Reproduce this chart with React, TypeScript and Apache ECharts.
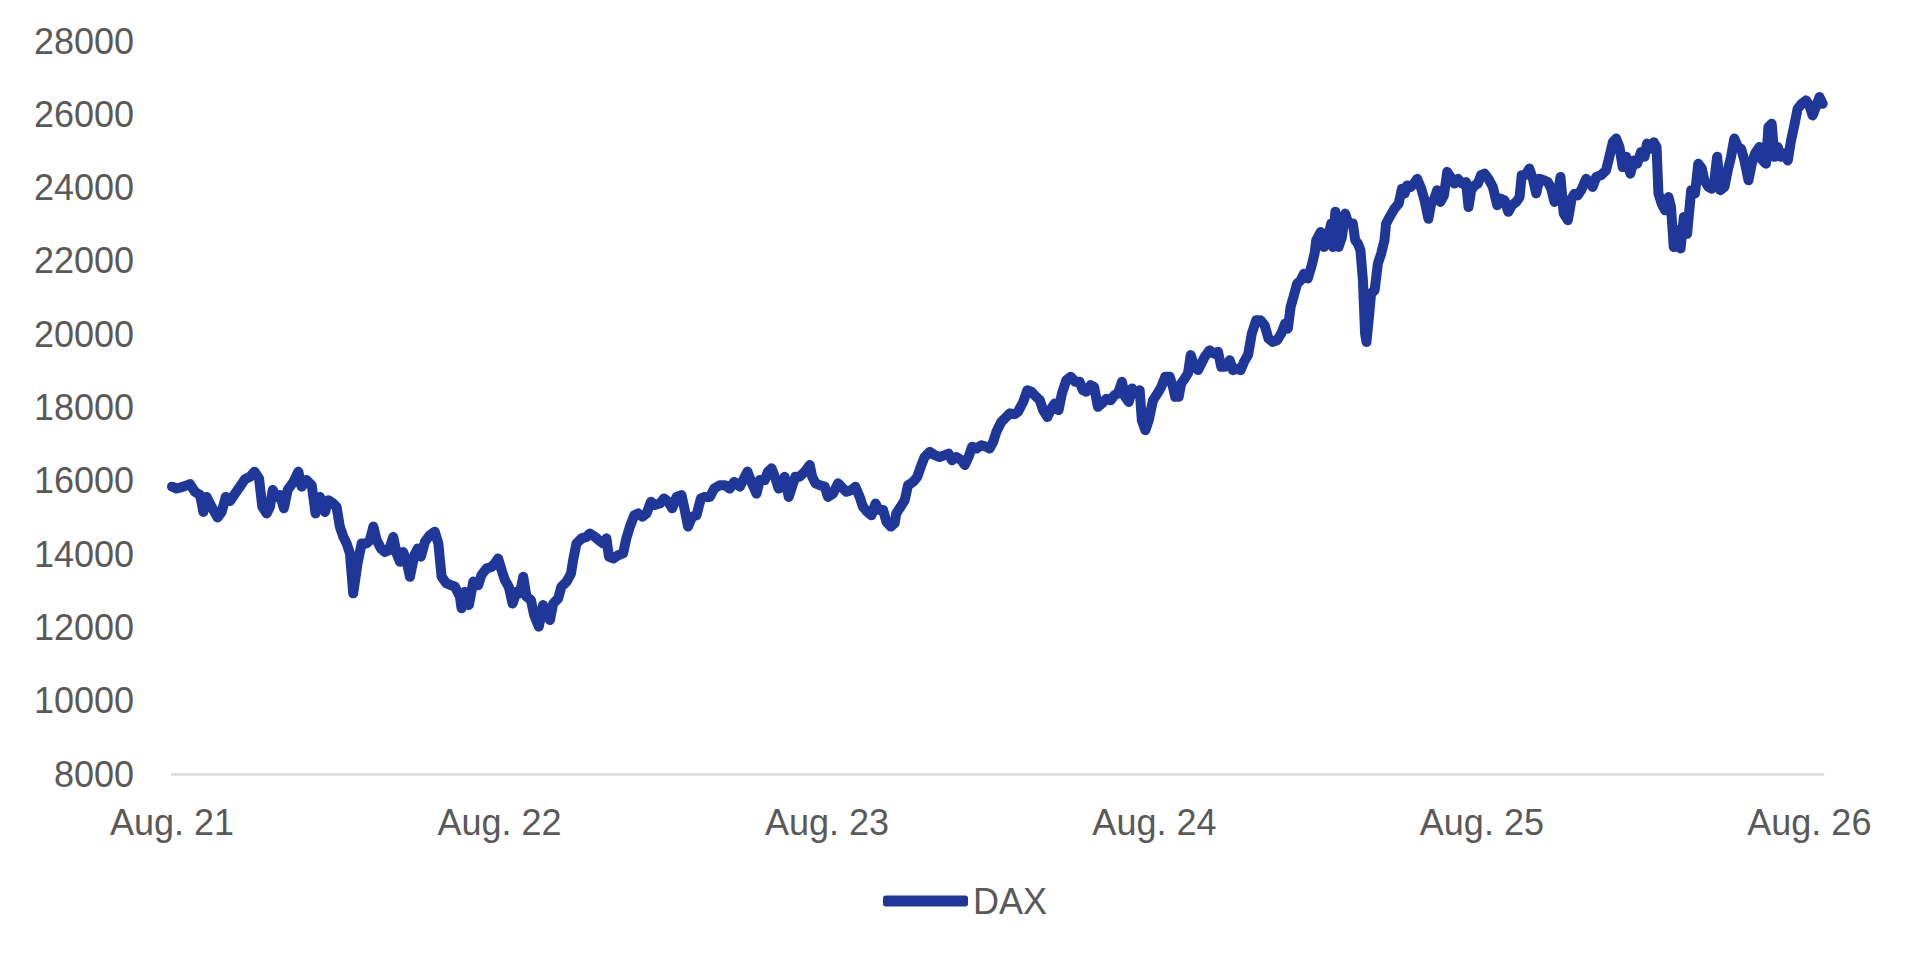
import React, { useEffect, useRef } from "react";
import * as echarts from "echarts";

// x positions: months since Aug. 2021
const monthIdx: number[] = [
  0.0, 0.17, 0.42, 0.66, 0.84, 1.03, 1.15, 1.27, 1.45, 1.67, 1.82, 1.97, 2.13, 2.31, 2.49, 2.67, 2.86, 3.02, 3.19, 3.31,
  3.47, 3.59, 3.69, 3.83, 3.96, 4.1, 4.24, 4.45, 4.63, 4.75, 4.93, 5.12, 5.26, 5.42, 5.61, 5.73, 5.91, 6.03, 6.15, 6.28,
  6.4, 6.52, 6.64, 6.8, 6.95, 7.13, 7.25, 7.38, 7.5, 7.66, 7.8, 7.95, 8.11, 8.23, 8.35, 8.47, 8.6, 8.72, 8.88, 9.0,
  9.12, 9.27, 9.45, 9.63, 9.76, 9.88, 10.06, 10.37, 10.55, 10.61, 10.73, 10.88, 11.04, 11.22, 11.34, 11.53, 11.71, 11.83, 11.95, 12.08,
  12.2, 12.34, 12.48, 12.63, 12.75, 12.87, 12.99, 13.15, 13.27, 13.44, 13.6, 13.72, 13.85, 13.97, 14.15, 14.27, 14.46, 14.62, 14.7, 14.82,
  15.01, 15.19, 15.31, 15.5, 15.64, 15.8, 15.92, 16.01, 16.17, 16.35, 16.53, 16.65, 16.78, 16.94, 17.08, 17.23, 17.39, 17.55, 17.69, 17.88,
  18.03, 18.18, 18.33, 18.49, 18.67, 18.79, 18.91, 19.06, 19.22, 19.38, 19.52, 19.71, 19.87, 20.07, 20.26, 20.44, 20.6, 20.81, 20.99, 21.09,
  21.23, 21.42, 21.54, 21.72, 21.84, 21.97, 22.09, 22.23, 22.36, 22.45, 22.6, 22.7, 22.84, 23.0, 23.19, 23.37, 23.46, 23.58, 23.74, 23.92,
  24.04, 24.22, 24.41, 24.53, 24.71, 24.9, 25.04, 25.2, 25.32, 25.48, 25.63, 25.78, 25.9, 26.06, 26.18, 26.34, 26.48, 26.54, 26.7, 26.85,
  26.97, 27.16, 27.31, 27.46, 27.58, 27.77, 27.95, 28.13, 28.32, 28.46, 28.58, 28.74, 28.93, 29.05, 29.19, 29.32, 29.48, 29.66, 29.84, 29.96,
  30.09, 30.21, 30.39, 30.57, 30.7, 30.88, 31.0, 31.19, 31.34, 31.49, 31.67, 31.8, 31.92, 32.08, 32.22, 32.35, 32.49, 32.61, 32.77, 32.93,
  33.1, 33.26, 33.38, 33.5, 33.66, 33.79, 33.93, 34.08, 34.24, 34.4, 34.54, 34.66, 34.81, 34.93, 35.06, 35.18, 35.3, 35.46, 35.54, 35.67,
  35.79, 35.95, 36.11, 36.25, 36.4, 36.56, 36.68, 36.76, 36.89, 36.98, 37.11, 37.23, 37.33, 37.47, 37.6, 37.72, 37.84, 38.02, 38.18, 38.33,
  38.45, 38.6, 38.76, 38.88, 39.04, 39.16, 39.28, 39.43, 39.57, 39.73, 39.89, 40.04, 40.18, 40.34, 40.5, 40.65, 40.79, 40.89, 40.99, 41.11,
  41.23, 41.36, 41.48, 41.62, 41.75, 41.87, 41.93, 42.09, 42.21, 42.36, 42.48, 42.54, 42.63, 42.75, 42.87, 42.99, 43.11, 43.27, 43.36, 43.46,
  43.55, 43.64, 43.72, 43.77, 43.85, 43.94, 44.07, 44.19, 44.31, 44.43, 44.49, 44.65, 44.8, 44.95, 45.07, 45.17, 45.26, 45.39, 45.51, 45.63,
  45.78, 45.9, 46.04, 46.14, 46.26, 46.36, 46.48, 46.61, 46.73, 46.85, 47.0, 47.12, 47.27, 47.42, 47.51, 47.61, 47.73, 47.85, 47.97, 48.1,
  48.24, 48.4, 48.56, 48.68, 48.83, 48.97, 49.1, 49.26, 49.38, 49.46, 49.59, 49.74, 49.87, 49.99, 50.11, 50.27, 50.42, 50.54, 50.66, 50.78,
  50.88, 51.0, 51.15, 51.29, 51.39, 51.51, 51.64, 51.82, 51.94, 52.06, 52.19, 52.37, 52.55, 52.67, 52.8, 52.92, 53.04, 53.16, 53.29, 53.44,
  53.57, 53.69, 53.83, 53.96, 54.05, 54.18, 54.3, 54.4, 54.47, 54.59, 54.71, 54.84, 54.93, 55.03, 55.15, 55.28, 55.4, 55.52, 55.67, 55.81,
  55.93, 56.06, 56.15, 56.3, 56.42, 56.52, 56.62, 56.74, 56.89, 57.01, 57.13, 57.25, 57.38, 57.5, 57.62, 57.77, 57.89, 58.01, 58.17, 58.29,
  58.41, 58.5, 58.62, 58.72, 58.84, 58.96, 59.08, 59.21, 59.33, 59.45, 59.57, 59.72, 59.88, 60.0, 60.12, 60.24, 60.37, 60.49,
];

const daxValues: number[] = [
  15840, 15790, 15840, 15910, 15700, 15610, 15150, 15560, 15290, 15000, 15150, 15560, 15450, 15650, 15840, 16040, 16110, 16250, 16060, 15290,
  15110, 15290, 15750, 15560, 15610, 15250, 15750, 15970, 16250, 15840, 16020, 15880, 15110, 15560, 15150, 15470, 15380, 15290, 14750, 14470,
  14290, 14020, 12930, 13750, 14290, 14290, 14380, 14750, 14380, 14150, 14060, 14110, 14470, 14020, 13790, 14060, 13790, 13380, 13970, 14150,
  13930, 14340, 14520, 14610, 14290, 13380, 13200, 13110, 12840, 12520, 12970, 12610, 13250, 13150, 13430, 13610, 13650, 13750, 13880, 13560,
  13290, 13110, 12650, 12970, 12930, 13380, 12840, 12750, 12340, 12020, 12610, 12380, 12200, 12650, 12790, 13110, 13250, 13470, 13840, 14290,
  14430, 14470, 14560, 14470, 14380, 14290, 14430, 13930, 13880, 13970, 14020, 14430, 14750, 15060, 15110, 15020, 15110, 15430, 15340, 15380,
  15520, 15430, 15250, 15560, 15610, 15200, 14750, 15020, 15060, 15520, 15560, 15560, 15790, 15880, 15880, 15790, 15970, 15840, 16110, 16250,
  15970, 15650, 16020, 16020, 16250, 16340, 16110, 15790, 15840, 16110, 15560, 15790, 16110, 16110, 16250, 16430, 16110, 15930, 15880, 15840,
  15560, 15650, 15930, 15840, 15700, 15750, 15840, 15560, 15290, 15150, 15060, 15380, 15200, 15200, 14880, 14750, 14840, 15110, 15290, 15470,
  15880, 15970, 16110, 16430, 16650, 16790, 16700, 16650, 16700, 16740, 16560, 16650, 16560, 16430, 16650, 16930, 16880, 16970, 16930, 16880,
  17060, 17340, 17610, 17740, 17840, 17820, 17880, 18150, 18470, 18430, 18290, 18200, 17930, 17740, 17970, 18110, 17930, 18380, 18740, 18840,
  18700, 18700, 18470, 18430, 18610, 18560, 18020, 18110, 18240, 18200, 18340, 18380, 18700, 18290, 18150, 18520, 18380, 18470, 17650, 17380,
  17650, 18200, 18380, 18560, 18840, 18840, 18560, 18290, 18290, 18650, 18790, 18930, 19430, 19110, 19020, 19200, 19380, 19560, 19470, 19520,
  19110, 19110, 19290, 19020, 19060, 19020, 19240, 19430, 20020, 20380, 20380, 20240, 19880, 19790, 19840, 20020, 20290, 20150, 20740, 21050,
  21380, 21470, 21650, 21520, 21840, 22200, 22560, 22790, 22380, 22650, 23020, 22380, 23340, 22380, 22650, 23290, 23020, 23020, 22560, 22470,
  22290, 21470, 20020, 19790, 20380, 21110, 21200, 21930, 22200, 22560, 23020, 23240, 23430, 23560, 23970, 23840, 24060, 24020, 24110, 24240,
  23970, 23650, 23150, 23560, 23700, 23930, 23610, 23790, 24430, 24290, 24110, 24240, 24110, 24150, 23470, 23930, 24060, 24110, 24340, 24380,
  24240, 24020, 23520, 23700, 23650, 23340, 23520, 23610, 23740, 24340, 24340, 24520, 24240, 23840, 24240, 24200, 24150, 23970, 23610, 23840,
  24290, 23290, 23110, 23700, 23830, 23790, 23930, 24240, 24150, 24020, 24290, 24340, 24470, 24840, 25240, 25340, 25110, 24560, 24840, 24380,
  24740, 24650, 24970, 24840, 25200, 25060, 25240, 25110, 23840, 23560, 23380, 23740, 23470, 22380, 22840, 22340, 23200, 22740, 23930, 23840,
  24650, 24520, 24200, 24020, 23970, 24200, 24840, 23930, 24020, 24470, 24840, 25340, 25110, 25060, 24740, 24200, 24650, 24930, 25110, 24740,
  24650, 25650, 25740, 24840, 25110, 24840, 24930, 24740, 25290, 25700, 26150, 26290, 26380, 26240, 25970, 26200, 26470, 26290,
];

const xTickMonths: number[] = [0, 12, 24, 36, 48, 60];
const xTickLabels: string[] = ["Aug. 21", "Aug. 22", "Aug. 23", "Aug. 24", "Aug. 25", "Aug. 26"];
const seriesName = "DAX";

const FONT = "'Liberation Sans', Arial, sans-serif";
const TEXT_COLOR = "#595959";
const LINE_COLOR = "#1e3799";

export default function App() {
  const ref = useRef<HTMLDivElement>(null);

  useEffect(() => {
    if (!ref.current) return;
    const chart = echarts.init(ref.current, null, { renderer: "svg" });
    const data = monthIdx.map((m, i) => [m, daxValues[i]]);
    chart.setOption({
      animation: false,
      backgroundColor: "#ffffff",
      grid: { left: 172, right: 98, top: 41, bottom: 187, containLabel: false },
      legend: {
        data: [seriesName],
        left: 878,
        top: 878,
        icon: "roundRect",
        itemWidth: 85,
        itemHeight: 11,
        textStyle: { fontFamily: FONT, fontSize: 36, color: TEXT_COLOR },
      },
      xAxis: {
        type: "value",
        min: 0,
        max: 60.5,
        interval: 12,
        axisLine: { show: true, lineStyle: { color: "#d9d9d9", width: 2.5 } },
        axisTick: { show: false },
        splitLine: { show: false },
        axisLabel: {
          fontFamily: FONT,
          fontSize: 36,
          color: TEXT_COLOR,
          margin: 30,
          showMaxLabel: false,
          formatter: (v: number) => {
            const idx = xTickMonths.indexOf(v);
            return idx >= 0 ? xTickLabels[idx] : "";
          },
        },
      },
      yAxis: {
        type: "value",
        min: 8000,
        max: 28000,
        interval: 2000,
        axisLine: { show: false },
        axisTick: { show: false },
        splitLine: { show: false },
        axisLabel: {
          fontFamily: FONT,
          fontSize: 36,
          color: TEXT_COLOR,
          margin: 38,
          formatter: (v: number) => String(v),
        },
      },
      series: [
        {
          name: seriesName,
          type: "line",
          data,
          symbol: "none",
          showSymbol: false,
          color: LINE_COLOR,
          lineStyle: { color: LINE_COLOR, width: 10, cap: "round", join: "round" },
        },
      ],
    });
    return () => chart.dispose();
  }, []);

  return (
    <div
      ref={ref}
      style={{ position: "fixed", left: 0, top: 0, width: "1921px", height: "961px", background: "#fff" }}
    />
  );
}
